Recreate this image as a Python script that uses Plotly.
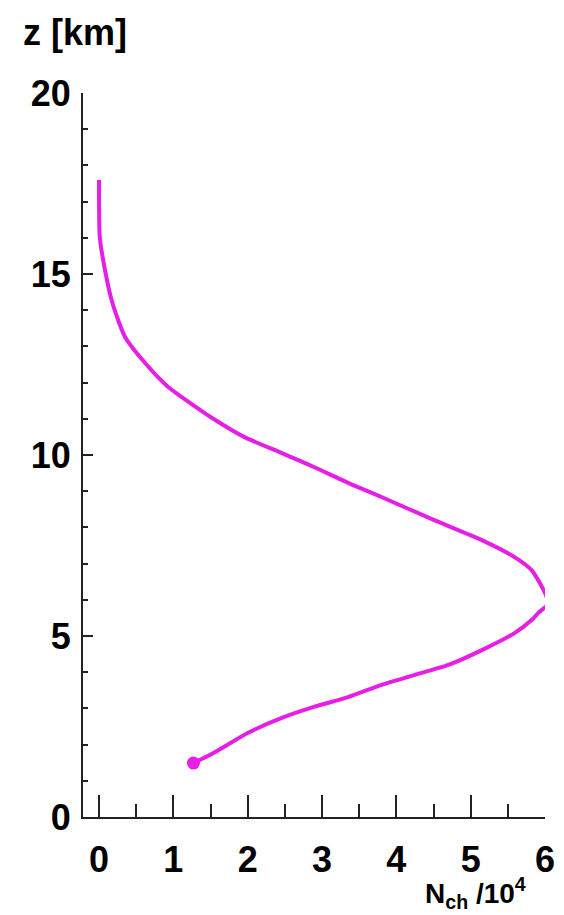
import plotly.graph_objects as go

# Data: N_ch / 10^4 versus altitude z [km]
n_ch = [0.00, 0.01, 0.08, 0.18, 0.35, 0.62, 0.93, 1.30, 1.50, 1.95, 2.45, 2.89,
        3.35, 3.80, 4.51, 5.15, 5.59, 5.82, 6.00, 6.04, 5.92, 5.82, 5.59, 5.15,
        4.70, 4.24, 3.80, 3.35, 2.89, 2.45, 2.00, 1.54, 1.27]
z_km = [17.60, 16.02, 15.11, 14.20, 13.26, 12.54, 11.88, 11.33, 11.05, 10.50, 10.06, 9.67,
        9.23, 8.84, 8.20, 7.65, 7.18, 6.82, 6.19, 5.88, 5.66, 5.44, 5.08, 4.61,
        4.20, 3.92, 3.65, 3.31, 3.04, 2.73, 2.32, 1.77, 1.49]

x_ticks = [0, 1, 2, 3, 4, 5, 6]
y_ticks = [0, 5, 10, 15, 20]

MAGENTA = "#e61ee6"
FONT = "Liberation Sans, Arial, sans-serif"
AXC = "#222222"

fig = go.Figure()
fig.add_trace(go.Scatter(x=n_ch, y=z_km, mode="lines",
                         line=dict(color=MAGENTA, width=4, shape="spline", smoothing=0.6),
                         hoverinfo="skip"))
fig.add_trace(go.Scatter(x=n_ch[-1:], y=z_km[-1:], mode="markers",
                         marker=dict(color=MAGENTA, size=13), hoverinfo="skip"))

# page body has an 8px default margin, so the figure is sized to fit inside it
fig.update_layout(
    width=556, height=907,
    margin=dict(l=75, r=19, t=85, b=98),
    paper_bgcolor="white", plot_bgcolor="white",
    showlegend=False,
    font=dict(family=FONT, color="black"),
    xaxis=dict(range=[-0.216, 6.0], tickvals=x_ticks, ticks="inside", ticklen=22,
               tickwidth=2, tickcolor=AXC, showline=True, linecolor=AXC, linewidth=2,
               showgrid=False, zeroline=False, automargin=False,
               tickfont=dict(size=36, family=FONT, weight="bold", color="black"),
               minor=dict(dtick=0.5, tick0=0, ticks="inside", ticklen=13, tickwidth=2,
                          tickcolor=AXC, showgrid=False),
               ticklabelstandoff=10),
    yaxis=dict(range=[0, 20], tickvals=y_ticks, ticks="inside", ticklen=10,
               tickwidth=2, tickcolor=AXC, showline=True, linecolor=AXC, linewidth=2,
               showgrid=False, zeroline=False, automargin=False,
               tickfont=dict(size=36, family=FONT, weight="bold", color="black"),
               minor=dict(dtick=1, tick0=0, ticks="inside", ticklen=5, tickwidth=2,
                          tickcolor=AXC, showgrid=False),
               ticklabelstandoff=3),
    annotations=[
        dict(text="z [km]", xref="paper", yref="paper", x=-0.135, y=1.084,
             xanchor="left", yanchor="middle", showarrow=False,
             font=dict(size=36, family=FONT, weight="bold", color="black")),
        dict(text="N<sub>ch</sub> /10<sup>4</sup>", xref="paper", yref="paper",
             x=0.963, y=-0.105, xanchor="right", yanchor="middle", showarrow=False,
             font=dict(size=28, family=FONT, weight="bold", color="black")),
    ],
)

fig.write_html("out.html")
